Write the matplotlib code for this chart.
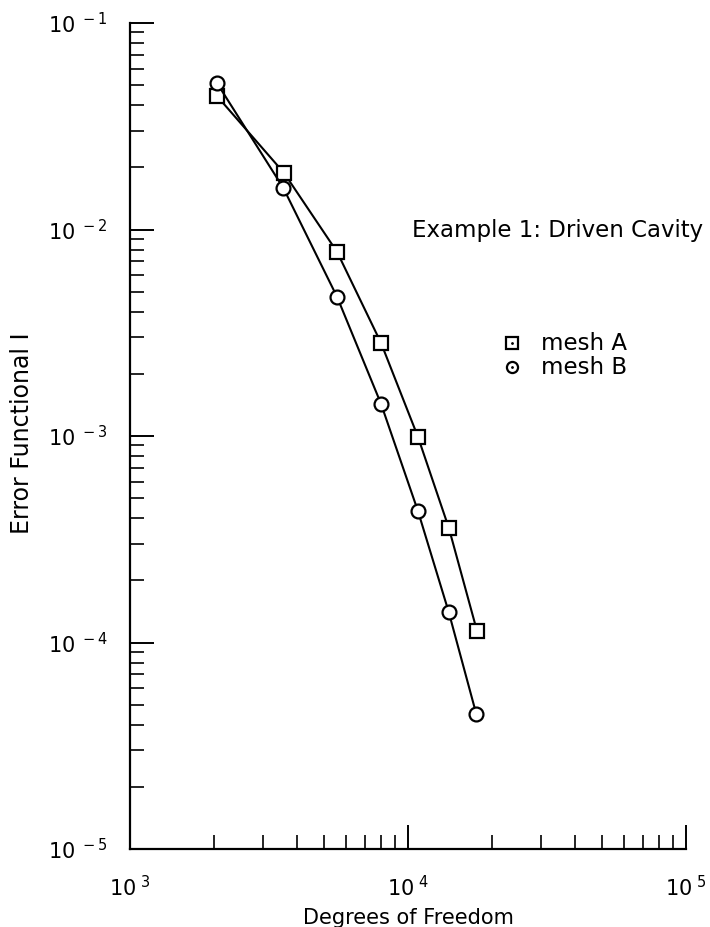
import matplotlib
matplotlib.use("Agg")
import matplotlib.pyplot as plt
from matplotlib.ticker import LogLocator, NullFormatter, FixedLocator

dof_a = [2055, 3580, 5560, 8000, 10860, 14030, 17700]
err_a = [0.0443, 0.0188, 0.00778, 0.00282, 0.00099, 0.000358, 0.000114]
dof_b = [2055, 3560, 5560, 8000, 10860, 14000, 17600]
err_b = [0.0512, 0.0159, 0.00471, 0.00143, 0.000433, 0.000141, 0.0000451]
labels = ["mesh A", "mesh B"]
xticks = [1e3, 1e4, 1e5]
xticklabels = [r"$10^{\ 3}$", r"$10^{\ 4}$", r"$10^{\ 5}$"]
yticks = [1e-5, 1e-4, 1e-3, 1e-2, 1e-1]
yticklabels = [r"$10^{\ -5}$", r"$10^{\ -4}$", r"$10^{\ -3}$", r"$10^{\ -2}$", r"$10^{\ -1}$"]

plt.rcParams['font.family'] = ['DejaVu Sans']
plt.rcParams['mathtext.fontset'] = 'dejavusans'

fig = plt.figure(figsize=(7.1, 9.27), dpi=100)
ax = fig.add_axes([130/710, 78/927, 556/710, 826/927])
ax.set_xscale('log')
ax.set_yscale('log')
ax.set_xlim(1e3, 1e5)
ax.set_ylim(1e-5, 1e-1)

mk = dict(markersize=10, markerfacecolor='white', markeredgecolor='black', markeredgewidth=1.6, color='black', lw=1.5)
ax.plot(dof_a, err_a, marker='s', **mk, zorder=3)
ax.plot(dof_b, err_b, marker='o', **mk, zorder=3)

for s in ['top', 'right']:
    ax.spines[s].set_visible(False)
for s in ['left', 'bottom']:
    ax.spines[s].set_linewidth(1.6)

ax.xaxis.set_major_locator(FixedLocator(xticks))
ax.set_xticklabels(xticklabels)
ax.yaxis.set_major_locator(FixedLocator(yticks))
ax.set_yticklabels(yticklabels)
ax.xaxis.set_minor_locator(LogLocator(base=10, subs=range(2, 10)))
ax.yaxis.set_minor_locator(LogLocator(base=10, subs=range(2, 10)))
ax.xaxis.set_minor_formatter(NullFormatter())
ax.yaxis.set_minor_formatter(NullFormatter())
ax.tick_params(which='major', direction='in', length=17, width=1.4, labelsize=15)
ax.tick_params(which='minor', direction='in', length=10, width=1.2)
ax.tick_params(axis='x', which='major', pad=19)
ax.tick_params(axis='y', which='major', pad=16)

ax.set_xlabel("Degrees of Freedom", fontsize=15)
ax.xaxis.label.set_va('center')
ax.xaxis.set_label_coords(0.5, (849 - 918) / 826)
ax.set_ylabel("Error Functional I", fontsize=17)
ax.yaxis.label.set_va('center')
ax.yaxis.set_label_coords((22 - 130) / 556, (849 - 433) / 826)

ax.text(1.03, 0.749, "Example 1: Driven Cavity", transform=ax.transAxes, fontsize=16.5, ha='right', va='center')

# legend
lx = 512
for i, (m, lab) in enumerate(zip(['s', 'o'], labels)):
    py = 343 + 24 * i
    fx, fy = lx / 710, 1 - py / 927
    fig.lines.append(plt.Line2D([fx], [fy], marker=m, markersize=8, markerfacecolor='white',
                                markeredgecolor='black', markeredgewidth=1.6, transform=fig.transFigure))
    fig.lines.append(plt.Line2D([fx], [fy], marker='.', markersize=2, color='black', transform=fig.transFigure))
    fig.text(541 / 710, fy, lab, fontsize=16.5, ha='left', va='center')

fig.savefig("out.png", dpi=100)
